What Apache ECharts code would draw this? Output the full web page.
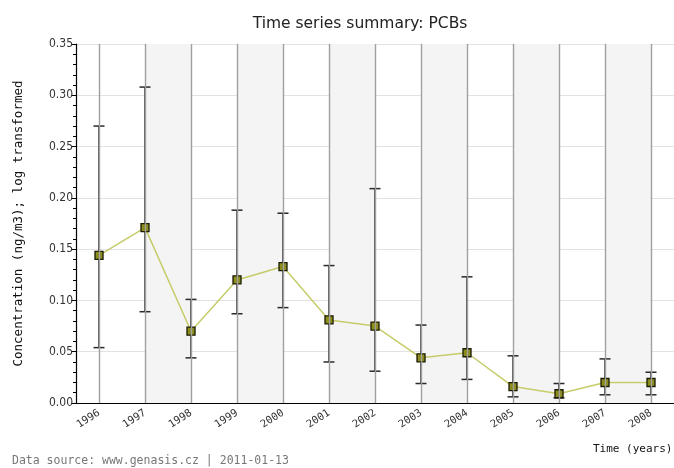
<!DOCTYPE html>
<html>
<head>
<meta charset="utf-8">
<script src="https://cdn.jsdelivr.net/npm/echarts@6/dist/echarts.min.js"></script>
<style>html,body{margin:0;padding:0;background:#fff}#c{width:674px;height:468px}</style>
</head>
<body>
<div id="c"></div>
<script>
const years = ['1996','1997','1998','1999','2000','2001','2002','2003','2004','2005','2006','2007','2008'];
const meanValues = [0.144, 0.171, 0.070, 0.120, 0.133, 0.081, 0.075, 0.044, 0.049, 0.016, 0.009, 0.020, 0.020];
const lowValues  = [0.054, 0.089, 0.044, 0.087, 0.093, 0.040, 0.031, 0.019, 0.023, 0.006, 0.005, 0.008, 0.008];
const highValues = [0.270, 0.308, 0.101, 0.188, 0.185, 0.134, 0.209, 0.076, 0.123, 0.046, 0.019, 0.043, 0.030];
const yTicks = [0, 0.05, 0.10, 0.15, 0.20, 0.25, 0.30, 0.35];
const shadedPairs = [['1997','1998'],['1999','2000'],['2001','2002'],['2003','2004'],['2005','2006'],['2007','2008']];

const mono = 'DejaVu Sans Mono';
const chart = echarts.init(document.getElementById('c'), null, {renderer: 'canvas'});

const errData = years.map((y, i) => [i, lowValues[i], highValues[i]]);

chart.setOption({
  animation: false,
  backgroundColor: '#fff',
  title: {
    text: 'Time series summary: PCBs',
    left: 355, top: 11, textAlign: 'center',
    textStyle: {fontFamily: 'DejaVu Sans', fontSize: 15.5, fontWeight: 'normal', color: '#222'}
  },
  graphic: [
    {type: 'text', left: 12, top: 455, style: {text: 'Data source: www.genasis.cz | 2011-01-13', font: '11.5px "DejaVu Sans Mono"', fill: '#777'}},
    {type: 'text', left: 593, top: 444, style: {text: 'Time (years)', font: '11px "DejaVu Sans Mono"', fill: '#111'}}
  ],
  grid: {left: 76, top: 44, width: 601, height: 359, containLabel: false},
  xAxis: {
    type: 'category',
    data: years,
    boundaryGap: true,
    axisLine: {lineStyle: {color: '#000', width: 1.2}},
    axisTick: {alignWithLabel: true, length: 5, lineStyle: {color: '#000'}},
    axisLabel: {rotate: 33, fontFamily: mono, fontSize: 10.5, color: '#333', margin: 9},
    splitLine: {show: false}
  },
  yAxis: {
    type: 'value',
    min: 0, max: 0.35, interval: 0.05,
    name: 'Concentration (ng/m3); log transformed',
    nameLocation: 'middle', nameGap: 51, nameRotate: 90,
    nameTextStyle: {fontFamily: mono, fontSize: 12.5, color: '#111'},
    axisLine: {show: true, lineStyle: {color: '#000', width: 1.2}},
    axisTick: {show: true, length: 5, lineStyle: {color: '#000'}},
    minorTick: {show: true, splitNumber: 5, length: 3, lineStyle: {color: '#000'}},
    axisLabel: {fontFamily: 'DejaVu Sans Condensed, sans-serif', fontSize: 12, color: '#333', margin: 3,
      formatter: v => v.toFixed(2)},
    splitLine: {show: true, lineStyle: {color: '#e2e2e2', width: 1}}
  },
  series: [
    {
      type: 'line', data: [], silent: true,
      markArea: {silent: true, itemStyle: {color: '#f4f4f4'},
        data: shadedPairs.map(p => [{xAxis: p[0]}, {xAxis: p[1]}])},
      markLine: {silent: true, symbol: 'none', label: {show: false},
        lineStyle: {color: '#a0a0a0', width: 1.4, type: 'solid'},
        data: years.map(y => ({xAxis: y}))},
      z: 1
    },
    {
      type: 'custom', z: 3, silent: true,
      data: errData,
      renderItem: (params, api) => {
        const x = api.value(0);
        const lo = api.coord([x, api.value(1)]);
        const hi = api.coord([x, api.value(2)]);
        const hw = 5.5;
        const st = {stroke: '#2a2a2a', lineWidth: 1.5};
        return {type: 'group', children: [
          {type: 'line', shape: {x1: lo[0], y1: lo[1], x2: hi[0], y2: hi[1]}, style: st},
          {type: 'line', shape: {x1: lo[0]-hw, y1: lo[1], x2: lo[0]+hw, y2: lo[1]}, style: st},
          {type: 'line', shape: {x1: hi[0]-hw, y1: hi[1], x2: hi[0]+hw, y2: hi[1]}, style: st}
        ]};
      }
    },
    {
      type: 'line', z: 4,
      data: meanValues,
      symbol: 'rect', symbolSize: 8,
      lineStyle: {color: '#c6cc6a', width: 1.5},
      itemStyle: {color: '#8c8c1c', borderColor: '#1a1a00', borderWidth: 1.3}
    }
  ]
});
</script>
</body>
</html>
